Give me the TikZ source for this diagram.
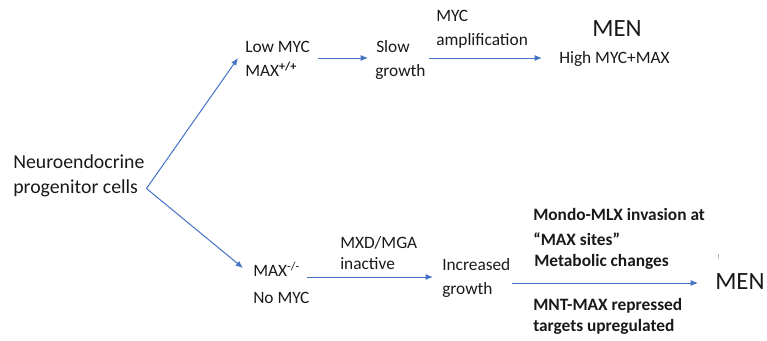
\documentclass[tikz,border=0pt]{standalone}
\usepackage{fontspec}
\setmainfont{Carlito}
\usetikzlibrary{arrows.meta}
\definecolor{arrowblue}{HTML}{4472C4}
\tikzset{
  lbl/.style={font=\fontsize{13}{16}\selectfont, inner sep=0pt, anchor=base west, text=black!90},
  leftlbl/.style={lbl, font=\fontsize{14.85}{18}\selectfont},
  blbl/.style={lbl, font=\fontsize{13}{16}\selectfont\bfseries},
  big/.style={font=\fontsize{18.6}{22}\selectfont, inner sep=0pt, anchor=base west, text=black!90},
  arr/.style={draw=arrowblue, line width=0.75pt, -{Latex[length=5.5pt,width=4.5pt]}}
}
\begin{document}
\begin{tikzpicture}[x=0.75pt,y=-0.75pt]
\useasboundingbox (0,0) rectangle (767,340);
% left
\node[leftlbl] (prog1) at (13,168) {Neuroendocrine};
\node[leftlbl] (prog2) at (13,193) {progenitor cells};
% top branch
\node[lbl] (low1) at (245,52.5) {Low MYC};
\node[lbl] (low2) at (245,76.5) {MAX\textsuperscript{\textbf{+/+}}};
\node[lbl] (slow1) at (376,52.5) {Slow};
\node[lbl] (slow2) at (375,76.5) {growth};
\node[lbl] (amp1) at (436,21.7) {MYC};
\node[lbl] (amp2) at (436,45.7) {amplification};
\node[big, anchor=base] (menA) at (617,36) {MEN};
\node[lbl] (high) at (559,63.3) {High MYC+MAX};
% bottom branch
\node[lbl] (max1) at (253,276.7) {MAX\textsuperscript{-/-}};
\node[lbl] (max2) at (253,303.3) {No MYC};
\node[lbl] (mxd1) at (340,248.3) {MXD/MGA};
\node[lbl] (mxd2) at (340,269.3) {inactive};
\node[lbl] (inc1) at (442,270.7) {Increased};
\node[lbl] (inc2) at (442,294) {growth};
\node[blbl] (mon1) at (533,220) {Mondo-MLX invasion at};
\node[blbl] (mon2) at (533,245) {“MAX sites”};
\node[blbl] (mon3) at (534,266) {Metabolic changes};
\node[blbl] (mnt1) at (533,310) {MNT-MAX repressed};
\node[blbl] (mnt2) at (533,331.7) {targets upregulated};
\node[font=\fontsize{5}{6}\selectfont, inner sep=0pt, anchor=base west, text=black!70] (mark) at (717,259) {!};
\node[big] (menB) at (715,289.3) {MEN};
% connector points
\coordinate (v) at (146.5,188.5);
\coordinate (lowin) at (238,58);
\coordinate (maxin) at (243,268);
\coordinate (lowout) at (318,58);
\coordinate (slowin) at (368,58);
\coordinate (slowout) at (429,58);
\coordinate (highin) at (542,58);
\coordinate (maxout) at (307,277);
\coordinate (incin) at (433,277);
\coordinate (incout) at (512,283);
\coordinate (menin) at (698,283);
\draw[arr] (v) -- (lowin);
\draw[arr] (v) -- (maxin);
\draw[arr] (lowout) -- (slowin);
\draw[arr] (slowout) -- (highin);
\draw[arr] (maxout) -- (incin);
\draw[arr] (incout) -- (menin);
\end{tikzpicture}
\end{document}
